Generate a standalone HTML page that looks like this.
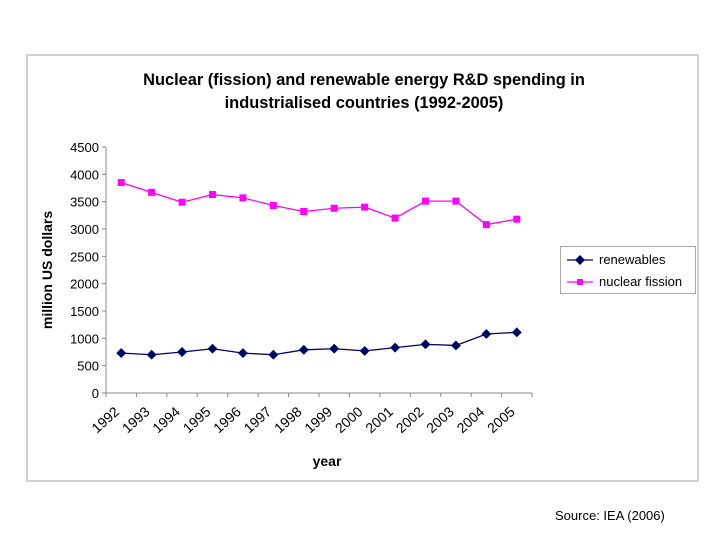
<!DOCTYPE html>
<html><head><meta charset="utf-8"><style>
body{margin:0;background:#fff;width:720px;height:540px;overflow:hidden;font-family:"Liberation Sans",Arial,sans-serif}
svg text{font-family:"Liberation Sans",Arial,sans-serif}
</style></head><body>
<svg id="c" width="720" height="540">
<rect x="27" y="55" width="671" height="426" fill="#fff" stroke="#d0d0d0" stroke-width="2"/>
<text x="364" y="85" text-anchor="middle" font-size="16.4" font-weight="bold">Nuclear (fission) and renewable energy R&amp;D spending in</text>
<text x="364" y="108" text-anchor="middle" font-size="16.4" font-weight="bold">industrialised countries (1992-2005)</text>
<text transform="translate(52,270) rotate(-90)" text-anchor="middle" font-size="14" font-weight="bold">million US dollars</text>
<text x="327" y="466" text-anchor="middle" font-size="14" font-weight="bold">year</text>
<g id="g"></g>
<rect x="560.5" y="246.5" width="135" height="47" fill="#fff" stroke="#aaa"/>
<g>
<line x1="567" y1="260" x2="593" y2="260" stroke="#000066" stroke-width="1.3"/>
<rect x="576.5" y="256.5" width="7" height="7" fill="#000066" transform="rotate(45 580 260)"/>
<text x="599" y="264" font-size="13">renewables</text></g>
<g>
<line x1="567" y1="282" x2="593" y2="282" stroke="#ff00ff" stroke-width="1.3"/>
<rect x="577" y="279" width="6" height="6" fill="#ff00ff"/>
<text x="599" y="286" font-size="13">nuclear fission</text></g>
<text x="555" y="520" font-size="13">Source: IEA (2006)</text>
</svg>
<script>
const years=["1992","1993","1994","1995","1996","1997","1998","1999","2000","2001","2002","2003","2004","2005"];
const renewables=[730,700,750,810,730,700,790,810,770,830,890,870,1080,1110];
const nuclear=[3850,3670,3490,3630,3570,3430,3320,3380,3400,3200,3510,3510,3080,3180];
const yTicks=[0,500,1000,1500,2000,2500,3000,3500,4000,4500];
const NS="http://www.w3.org/2000/svg";
const g=document.getElementById('g');
const x0=106,x1=532,y0=393,y1=147;
const bw=(x1-x0)/years.length;
const X=i=>x0+bw*(i+0.5);
const Y=v=>y0-(v/4500)*(y0-y1);
function mk(t,a){const e=document.createElementNS(NS,t);for(const k in a)e.setAttribute(k,a[k]);g.appendChild(e);return e;}
let e=mk('line',{x1:x0,y1:y1,x2:x0,y2:y0,stroke:'#888'});


e=mk('line',{x1:x0,y1:y0,x2:x1,y2:y0,stroke:'#888'});


yTicks.forEach(v=>{
 mk('line',{x1:x0-4,y1:Y(v),x2:x0,y2:Y(v),stroke:'#888'});
 const t=mk('text',{x:x0-7,y:Y(v)+5,'text-anchor':'end','font-size':13});
 t.textContent=v;
 
 
});
for(let i=0;i<=years.length;i++)mk('line',{x1:x0+bw*i,y1:y0,x2:x0+bw*i,y2:y0+4,stroke:'#888'});
years.forEach((y,i)=>{
 const ax=X(i)-1, ay=y0+20;
 const t=mk('text',{x:ax,y:ay,'text-anchor':'end','font-size':14,transform:`rotate(-42 ${ax} ${ay})`});
 t.textContent=y;
 
 
});
function series(vals,col,name,diamond){
 const p=mk('polyline',{points:vals.map((v,i)=>X(i)+','+Y(v)).join(' '),fill:'none',stroke:col,'stroke-width':1.3});
 
 
 vals.forEach((v,i)=>{
  let m;
  if(diamond)m=mk('rect',{x:X(i)-3.5,y:Y(v)-3.5,width:7,height:7,fill:col,transform:`rotate(45 ${X(i)} ${Y(v)})`});
  else m=mk('rect',{x:X(i)-3.5,y:Y(v)-3.5,width:7,height:7,fill:col});
  
  
 });
}
series(nuclear,'#ff00ff','nuclear',false);
series(renewables,'#000066','renewables',true);
</script>
</body></html>
